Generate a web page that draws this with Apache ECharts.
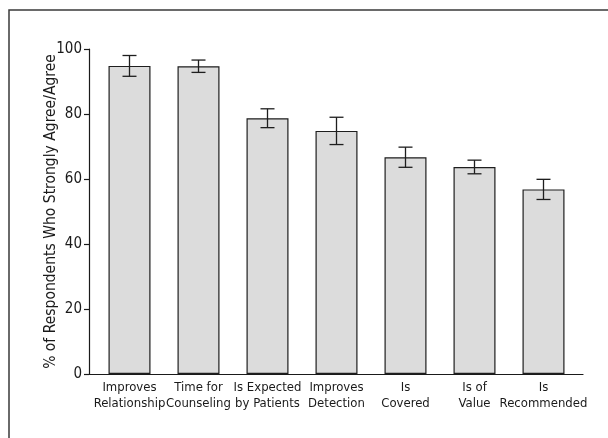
<!DOCTYPE html>
<html>
<head>
<meta charset="utf-8">
<script src="https://cdn.jsdelivr.net/npm/echarts@6/dist/echarts.min.js"></script>
<style>
  html, body { margin: 0; padding: 0; background: #fff; }
  #chart { width: 608px; height: 438px; }
</style>
</head>
<body>
<div id="chart"></div>
<script>
// Survey items (two-line axis labels)
const categories = [
  'Improves\nRelationship',
  'Time for\nCounseling',
  'Is Expected\nby Patients',
  'Improves\nDetection',
  'Is\nCovered',
  'Is of\nValue',
  'Is\nRecommended'
];
// Percent of respondents who strongly agree / agree
const agreePct = [94.8, 94.7, 78.7, 74.8, 66.7, 63.7, 56.8];
// Half-length of each error bar (percentage points)
const errorPct = [3.2, 1.9, 2.9, 4.2, 3.1, 2.1, 3.1];
// Y-axis ticks
const yTicks = [0, 20, 40, 60, 80, 100];

const FONT = '"Liberation Sans Narrow", "DejaVu Sans Condensed", "Liberation Sans", sans-serif';
const INK = '#1a1a1a';

const errData = agreePct.map((v, i) => [i, v - errorPct[i], v + errorPct[i]]);

const chart = echarts.init(document.getElementById('chart'), null, { renderer: 'canvas' });

chart.setOption({
  animation: false,
  backgroundColor: '#ffffff',
  graphic: [{
    type: 'rect',
    silent: true,
    shape: { x: 9, y: 10, width: 700, height: 600 },
    style: { fill: 'none', stroke: '#3a3a3a', lineWidth: 1.5 }
  }],
  grid: [
    // plotting area for the bars
    { left: 95, right: 30, top: 49, bottom: 64, containLabel: false },
    // slightly wider frame that carries the baseline
    { left: 89, right: 25, top: 49, bottom: 64, containLabel: false }
  ],
  xAxis: [
    {
      type: 'category',
      gridIndex: 0,
      data: categories,
      axisLine: { show: false },
      axisTick: { show: false },
      splitLine: { show: false },
      axisLabel: {
        interval: 0,
        color: INK,
        fontFamily: FONT,
        fontSize: 13,
        lineHeight: 16,
        margin: 6
      }
    },
    {
      type: 'value',
      gridIndex: 1,
      min: 0,
      max: 1,
      axisLine: { show: true, onZero: false, lineStyle: { color: INK, width: 1.2 } },
      axisTick: { show: false },
      axisLabel: { show: false },
      splitLine: { show: false }
    }
  ],
  yAxis: [
    {
      type: 'value',
      gridIndex: 0,
      offset: 6,
      min: yTicks[0],
      max: yTicks[yTicks.length - 1],
      interval: 20,
      name: '% of Respondents Who Strongly Agree/Agree',
      nameLocation: 'middle',
      nameGap: 30,
      nameMoveOverlap: false,
      nameTextStyle: { color: INK, fontFamily: FONT, fontSize: 15.5 },
      axisLine: { show: true, onZero: false, lineStyle: { color: INK, width: 1.2 } },
      axisTick: { show: true, length: 5, lineStyle: { color: INK, width: 1.2 } },
      splitLine: { show: false },
      axisLabel: { color: INK, fontFamily: FONT, fontSize: 15, margin: 7 }
    },
    {
      type: 'value',
      gridIndex: 1,
      min: 0,
      max: 1,
      show: false
    }
  ],
  series: [
    {
      type: 'bar',
      xAxisIndex: 0,
      yAxisIndex: 0,
      data: agreePct,
      barWidth: 42,
      itemStyle: { color: '#dcdcdc', borderColor: '#1e1e1e', borderWidth: 1.2 },
      z: 2
    },
    {
      type: 'custom',
      xAxisIndex: 0,
      yAxisIndex: 0,
      data: errData,
      z: 5,
      renderItem: (params, api) => {
        const x = api.value(0);
        const lo = api.coord([x, api.value(1)]);
        const hi = api.coord([x, api.value(2)]);
        const half = 7;
        const style = { stroke: '#1e1e1e', lineWidth: 1.3 };
        return {
          type: 'group',
          children: [
            { type: 'line', shape: { x1: lo[0], y1: lo[1], x2: hi[0], y2: hi[1] }, style },
            { type: 'line', shape: { x1: hi[0] - half, y1: hi[1], x2: hi[0] + half, y2: hi[1] }, style },
            { type: 'line', shape: { x1: lo[0] - half, y1: lo[1], x2: lo[0] + half, y2: lo[1] }, style }
          ]
        };
      }
    }
  ]
});
</script>
</body>
</html>
